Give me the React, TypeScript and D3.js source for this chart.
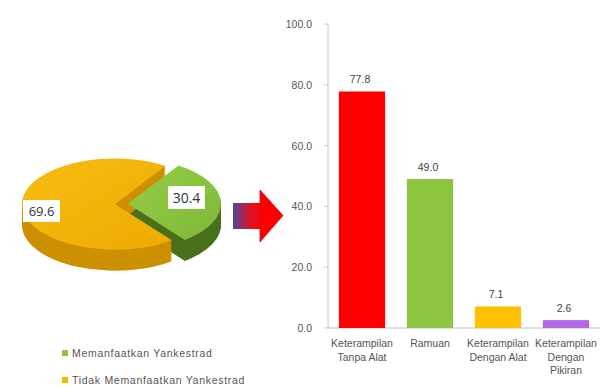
import React from "react";
import * as d3 from "d3";

const pieLabels = ["Memanfaatkan Yankestrad", "Tidak Memanfaatkan Yankestrad"];
const pieValues = [30.4, 69.6];
const pieSide = ["#4A701E", "#CC9000"];

const barCategories = [
  ["Keterampilan", "Tanpa Alat"],
  ["Ramuan"],
  ["Keterampilan", "Dengan Alat"],
  ["Keterampilan", "Dengan", "Pikiran"],
];
const barValues = [77.8, 49.0, 7.1, 2.6];
const barColors = ["#FF0000", "#8CC63F", "#FFC000", "#B266E8"];
const yTicks = [0, 20, 40, 60, 80, 100];

const FONT = "'Liberation Sans', Arial, sans-serif";

export default function App() {
  // Pie geometry
  const cx = 121, cy = 204, R = 93, squash = 0.49, depth = 21;
  const startA = 0.573; // green slice start angle (radians, d3 convention)
  const pie = d3
    .pie<number>()
    .sort(null)
    .value((d) => d)
    .startAngle(startA)
    .endAngle(startA + Math.PI * 2);
  const slices = pie(pieValues);
  const arc = d3.arc<d3.PieArcDatum<number>>().innerRadius(0).outerRadius(R);
  const explode = [7, 6];
  const offs = slices.map((s, i) => {
    const mid = (s.startAngle + s.endAngle) / 2;
    return [Math.sin(mid) * explode[i], -Math.cos(mid) * explode[i] * squash];
  });
  const layers = d3.range(depth, 0, -1);

  // Bar chart scales
  const x = d3
    .scaleBand<number>()
    .domain(d3.range(barValues.length))
    .range([328, 600])
    .paddingInner(0.32)
    .paddingOuter(0.16);
  const y = d3.scaleLinear().domain([0, 100]).range([328, 24]);

  return (
    <svg width={601} height={385} style={{ position: "absolute", left: 0, top: 0, background: "#fff" }} fontFamily={FONT}>
      <defs>
        <linearGradient id="gOrange" x1="0" y1="0" x2="1" y2="1">
          <stop offset="0" stopColor="#F7BD10" />
          <stop offset="1" stopColor="#EEAA00" />
        </linearGradient>
        <linearGradient id="gGreen" x1="0" y1="0" x2="1" y2="1">
          <stop offset="0" stopColor="#96CE48" />
          <stop offset="1" stopColor="#7CB935" />
        </linearGradient>
        <linearGradient id="gShaft" x1="0" y1="0" x2="1" y2="0">
          <stop offset="0" stopColor="#48489A" />
          <stop offset="0.55" stopColor="#D8142E" />
          <stop offset="1" stopColor="#FF0000" />
        </linearGradient>
      </defs>

      {/* Pie extrusion */}
      {[0, 1].map((i) => (
        <g key={"side" + i}>
          {layers.map((t) => (
            <path
              key={t}
              d={arc(slices[i]) || ""}
              transform={`translate(${cx + offs[i][0]},${cy + offs[i][1] + t}) scale(1,${squash})`}
              fill={pieSide[i]}
            />
          ))}
        </g>
      ))}
      {/* Pie tops */}
      {[1, 0].map((i) => (
        <path
          key={"top" + i}
          d={arc(slices[i]) || ""}
          transform={`translate(${cx + offs[i][0]},${cy + offs[i][1]}) scale(1,${squash})`}
          fill={i === 0 ? "url(#gGreen)" : "url(#gOrange)"}
        />
      ))}
      {/* Pie labels */}
      <rect x={23} y={200} width={37} height={22} fill="#fff" />
      <text x={41.5} y={215.5} textAnchor="middle" fontSize={13} fill="#2b3440" fontFamily="'Open Sans', sans-serif">
        {pieValues[1].toFixed(1)}
      </text>
      <rect x={168} y={186} width={37} height={23} fill="#fff" />
      <text x={186.5} y={202.5} textAnchor="middle" fontSize={14} fill="#2b3440" fontFamily="'Open Sans', sans-serif">
        {pieValues[0].toFixed(1)}
      </text>

      {/* Legend */}
      {pieLabels.map((l, i) => (
        <g key={l} transform={`translate(62,${350 + i * 27})`}>
          <rect x={0} y={0} width={6} height={6} fill={i === 0 ? "#8CC63F" : "#F0C000"} />
          <text x={10} y={7} fontSize={10.5} letterSpacing={0.7} fill="#555">
            {l}
          </text>
        </g>
      ))}

      {/* Arrow */}
      <path d="M233,203 L262,203 L262,229 L233,229 Z" fill="url(#gShaft)" />
      <path d="M260,190 L283,215.5 L260,242 Z" fill="#FF0000" stroke="#C8102E" strokeWidth={0.8} />

      {/* Y axis */}
      <line x1={328} x2={328} y1={y(100)} y2={y(0)} stroke="#C8C8C8" />
      {yTicks.map((t) => (
        <g key={t}>
          <line x1={324} x2={328} y1={y(t)} y2={y(t)} stroke="#C8C8C8" />
          <text x={312} y={y(t) + 4} textAnchor="end" fontSize={10.5} fill="#555">
            {t.toFixed(1)}
          </text>
        </g>
      ))}
      <line x1={328} x2={600} y1={y(0)} y2={y(0)} stroke="#BBBBD0" />

      {/* Bars */}
      {barValues.map((v, i) => (
        <g key={i}>
          <rect x={x(i)} y={y(v)} width={x.bandwidth()} height={y(0) - y(v)} fill={barColors[i]} />
          <text x={(x(i) || 0) + x.bandwidth() / 2 - 2} y={y(v) - 8} textAnchor="middle" fontSize={10.5} fill="#444">
            {v.toFixed(1)}
          </text>
          {barCategories[i].map((line, j) => (
            <text
              key={j}
              x={(x(i) || 0) + x.bandwidth() / 2}
              y={347 + j * 13.5}
              textAnchor="middle"
              fontSize={10.5}
              fill="#555"
            >
              {line}
            </text>
          ))}
        </g>
      ))}
    </svg>
  );
}
